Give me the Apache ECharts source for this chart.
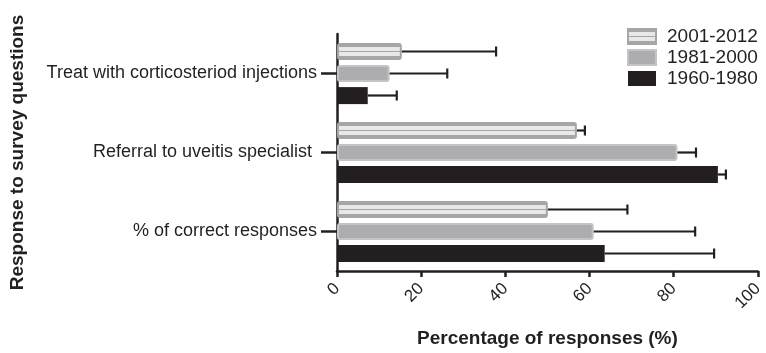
<!DOCTYPE html>
<html><head><meta charset="utf-8">
<script src="https://cdn.jsdelivr.net/npm/echarts@6/dist/echarts.min.js"></script>
<style>html,body{margin:0;padding:0;background:#fff}#c{width:766px;height:353px}</style>
</head><body><div id="c"></div>
<script>
const categories = ['Treat with corticosteriod injections', 'Referral to uveitis specialist ', '% of correct responses'];
const seriesNames = ['2001-2012', '1981-2000', '1960-1980'];
const values2001 = [15.4, 57.0, 50.1];
const values1981 = [12.5, 80.9, 61.0];
const values1960 = [7.3, 90.5, 63.6];
const errHigh2001 = [37.8, 58.9, 69.0];
const errHigh1981 = [26.2, 85.3, 85.1];
const errHigh1960 = [14.2, 92.4, 89.6];
const xTicks = [0, 20, 40, 60, 80, 100];

const FONT = '"Liberation Sans", Arial, Helvetica, sans-serif';
const INK = '#231f20';
const BW = 17, GAP = 5;

const G = '#a6a6a8', L = '#e8e8e8';
const stripe = {
  type: 'linear', x: 0, y: 0, x2: 0, y2: 1,
  colorStops: [
    {offset: 0, color: G}, {offset: 0.24, color: G},
    {offset: 0.24, color: L}, {offset: 0.47, color: L},
    {offset: 0.47, color: G}, {offset: 0.55, color: G},
    {offset: 0.55, color: L}, {offset: 0.76, color: L},
    {offset: 0.76, color: G}, {offset: 1, color: G}
  ]
};
const styles = [
  {color: stripe, borderColor: G, borderWidth: 2, borderRadius: 2},
  {color: '#adadaf', borderColor: '#c4c4c6', borderWidth: 2, borderRadius: 2},
  {color: INK, borderColor: INK, borderWidth: 0}
];
const vals = [values2001, values1981, values1960];
const errs = [errHigh2001, errHigh1981, errHigh1960];

const series = [];
seriesNames.forEach((n, i) => {
  series.push({
    name: n, type: 'bar', data: vals[i], barWidth: BW, barGap: '30%',
    itemStyle: styles[i], z: 2
  });
});
seriesNames.forEach((n, i) => {
  series.push({
    name: n + ' err', type: 'custom', z: 3,
    data: errs[i].map((e, k) => [k, vals[i][k], e]),
    encode: {x: [1, 2], y: 0},
    renderItem: function (params, api) {
      const cat = api.value(0);
      const p0 = api.coord([api.value(1), cat]);
      const p1 = api.coord([api.value(2), cat]);
      const y = p0[1] + (i - 1) * (BW + GAP);
      const st = {stroke: INK, lineWidth: 2.2};
      return {type: 'group', children: [
        {type: 'line', shape: {x1: p0[0], y1: y, x2: p1[0], y2: y}, style: st},
        {type: 'line', shape: {x1: p1[0], y1: y - 5, x2: p1[0], y2: y + 5}, style: st}
      ]};
    }
  });
});

const chart = echarts.init(document.getElementById('c'));
chart.setOption({
  animation: false,
  backgroundColor: '#fff',
  textStyle: {fontFamily: FONT, color: INK},
  grid: {left: 337, right: 6, top: 34, bottom: 80, containLabel: false},
  legend: {
    data: seriesNames.map(n => ({name: n, icon: 'rect'})), orient: 'vertical', left: 622, top: 22,
    itemWidth: 28, itemHeight: 15, itemGap: 2,
    textStyle: {fontFamily: FONT, fontSize: 19, lineHeight: 16, color: INK, padding: [0, 0, 0, 6]}
  },
  xAxis: {
    type: 'value', min: 0, max: 100, interval: 20,
    name: 'Percentage of responses (%)', nameLocation: 'middle', nameGap: 58,
    nameTextStyle: {fontFamily: FONT, fontSize: 19, fontWeight: 'bold', color: INK},
    axisLine: {show: true, lineStyle: {color: INK, width: 2.5}},
    axisTick: {show: true, length: 6, lineStyle: {color: INK, width: 2.5}},
    axisLabel: {rotate: 45, fontSize: 17, color: INK, fontFamily: FONT, margin: 15,
      formatter: v => xTicks.indexOf(v) >= 0 ? String(v) : ''},
    splitLine: {show: false}
  },
  yAxis: {
    type: 'category', data: categories, inverse: true,
    name: 'Response to survey questions', nameLocation: 'middle', nameGap: 310, nameRotate: 90,
    nameTextStyle: {fontFamily: FONT, fontSize: 19, fontWeight: 'bold', color: INK},
    axisLine: {show: true, lineStyle: {color: INK, width: 2.5}},
    axisTick: {show: true, alignWithLabel: true, length: 16, lineStyle: {color: INK, width: 2.5}},
    axisLabel: {fontSize: 18, color: INK, fontFamily: FONT, margin: 20}
  },
  series: series
});
</script></body></html>
